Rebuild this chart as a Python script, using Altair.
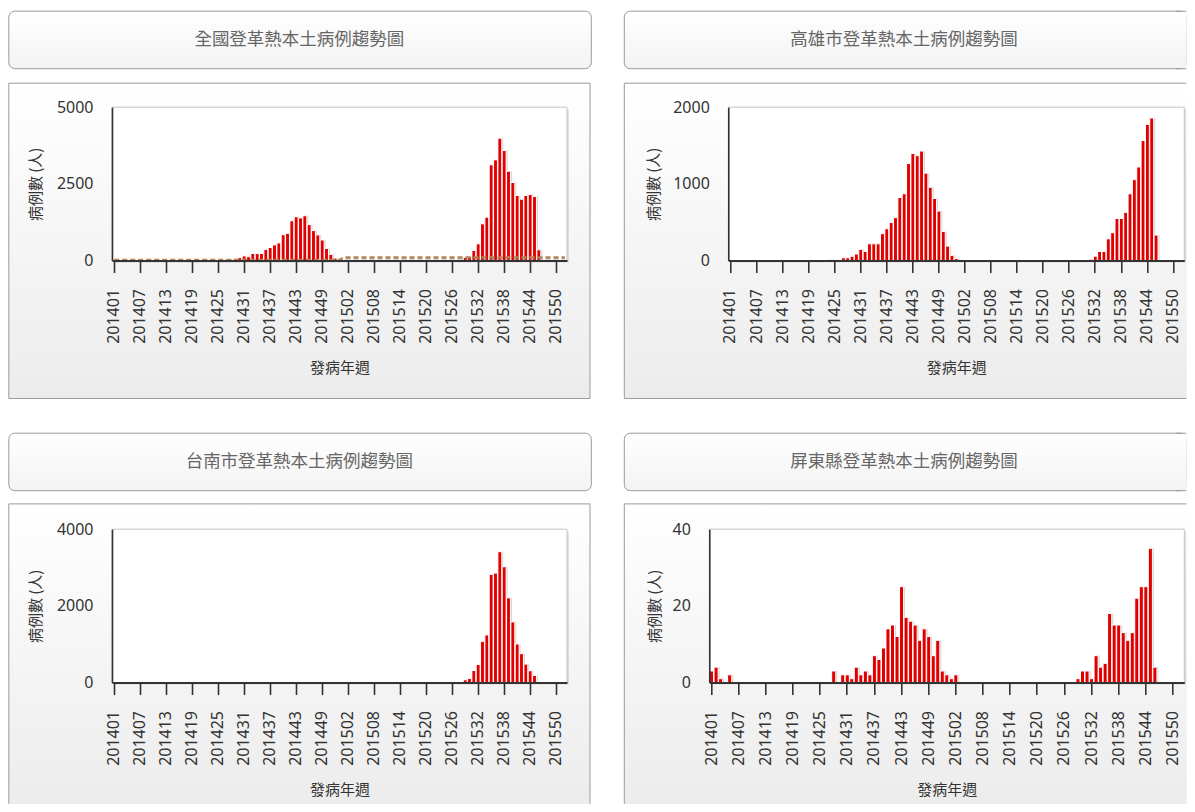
import altair as alt
import pandas as pd

# ---------------- data ----------------
weeks_2014 = ["2014%02d" % w for w in range(1, 54)]
weeks_2015 = ["2015%02d" % w for w in range(1, 53)]
weeks = weeks_2014 + weeks_2015

tick_labels = ["201401", "201407", "201413", "201419", "201425", "201431", "201437",
               "201443", "201449", "201502", "201508", "201514", "201520", "201526",
               "201532", "201538", "201544", "201550"]

# 全國
tw_2014 = [3, 4, 1, 0, 2,
           0, 0, 0, 0, 0, 0, 0, 0, 0, 0, 0, 0, 0, 0, 0, 0, 0, 0,
           12, 0, 15, 40, 40, 60, 92, 150, 125, 228, 225, 228, 362, 425, 508, 572, 840, 885,
           1295, 1425, 1390, 1460, 1170, 975, 835, 670, 392, 200, 78, 30]
tw_2015 = [5, 4, 1, 2, 0, 1,
           0, 0, 0, 0, 0, 0, 0, 0, 0, 0, 0, 0, 0, 0, 0, 0, 0, 0, 0, 0, 0, 0,
           100, 130, 326, 543, 1196, 1413, 3120, 3283, 3989, 3587, 2913, 2544, 2120, 2000,
           2120, 2152, 2087, 348,
           0, 0, 0, 0, 0, 0]
# 全國 dashed reference line (week, value)
thr_weeks = ["201401", "201453", "201501", "201552"]
thr_values = [20, 20, 100, 100]

# 高雄市
kh_2014 = [0, 0, 0, 0, 0, 0, 0, 0, 0, 0, 0, 0, 0, 0, 0, 0, 0, 0, 0, 0, 0, 0, 0,
           10, 0, 13, 35, 35, 55, 85, 146, 118, 218, 218, 218, 350, 414, 495, 560, 822, 870,
           1265, 1395, 1367, 1428, 1140, 956, 810, 645, 378, 188, 68, 25]
kh_2015 = [0, 0, 0, 0, 0, 0, 0, 0, 0, 0, 0, 0, 0, 0, 0, 0, 0, 0, 0, 0, 0, 0, 0, 0, 0, 0, 0, 0, 0, 0,
           17, 56, 118, 118, 283, 362, 548, 548, 628, 870, 1055, 1220, 1565, 1775, 1860, 332,
           0, 0, 0, 0, 0, 0]

# 台南市
tn_2014 = [0, 0, 0, 0, 0, 0, 0, 0, 0, 0, 0, 0, 0, 0, 0, 0, 0, 0, 0, 0, 0, 0, 0, 0, 0, 0,
           0, 0, 0, 0, 0, 0, 0, 0, 0, 0, 0, 0, 0, 0, 0, 0, 0, 0, 0, 0, 0, 0, 0, 0, 0, 0, 0]
tn_2015 = [0, 0, 0, 0, 0, 0, 0, 0, 0, 0, 0, 0, 0, 0, 0, 0, 0, 0, 0, 0, 0, 0, 0, 0, 0, 0, 0, 0,
           70, 105, 314, 471, 1074, 1240, 2820, 2855, 3413, 3020, 2209, 1580, 1004, 751, 480,
           306, 183,
           0, 0, 0, 0, 0, 0, 0]

# 屏東縣
pt_2014 = [3, 4, 1, 0, 2,
           0, 0, 0, 0, 0, 0, 0, 0, 0, 0, 0, 0, 0, 0, 0, 0, 0, 0, 0, 0, 0, 0,
           3, 0, 2, 2, 1, 4, 2, 3, 2, 7, 6, 9, 14, 15, 12, 25, 17, 16, 15, 11, 14, 12, 7, 11, 3, 2]
pt_2015 = [1, 2,
           0, 0, 0, 0, 0, 0, 0, 0, 0, 0, 0, 0, 0, 0, 0, 0, 0, 0, 0, 0, 0, 0, 0, 0, 0, 0,
           1, 3, 3, 1, 7, 4, 5, 18, 15, 15, 13, 11, 13, 22, 25, 25, 35, 4,
           0, 0, 0, 0, 0, 0]

titles = ["全國登革熱本土病例趨勢圖", "高雄市登革熱本土病例趨勢圖",
          "台南市登革熱本土病例趨勢圖", "屏東縣登革熱本土病例趨勢圖"]

# ---------------- styling ----------------
CJK = "Noto Sans CJK TC"
NUM = "Noto Sans"
H = 153.3
BAR_RED = "#e00000"
BORDER = "#9a9a9a"


def vgrad(c1, c2):
    return alt.Gradient(gradient="linear",
                        stops=[alt.GradientStop(color=c1, offset=0),
                               alt.GradientStop(color=c2, offset=1)],
                        x1=0, x2=0, y1=0, y2=1)


box_grad = vgrad("#ffffff", "#ececec")
title_grad = vgrad("#ffffff", "#f3f3f3")

one = pd.DataFrame({"k": [0]})


def rect(x1, x2, y1, y2, **kw):
    return alt.Chart(one).mark_rect(**kw).encode(
        x=alt.value(x1), x2=alt.value(x2), y=alt.value(y1), y2=alt.value(y2))


def hrule(x1, x2, y):
    return alt.Chart(one).mark_rule(color=BORDER, strokeWidth=1).encode(
        x=alt.value(x1), x2=alt.value(x2), y=alt.value(y))


def vrule(x, y1, y2):
    return alt.Chart(one).mark_rule(color=BORDER, strokeWidth=1).encode(
        x=alt.value(x), y=alt.value(y1), y2=alt.value(y2))


def panel(title, title_x, values, ymax, yticks, W, box_x1, ytitle_x,
          right_col, top_row, right_limit=None, thr=None):
    df = pd.DataFrame({"wk": weeks, "n": values})
    xscale = alt.Scale(domain=weeks, paddingInner=0.1, paddingOuter=0.05)
    yscale = alt.Scale(domain=[0, ymax], nice=False)

    x_axis = alt.Axis(values=tick_labels, labelAngle=-90, labelFont=NUM, labelFontSize=16,
                      labelColor="#333333", labelPadding=16, labelOverlap=False,
                      labelBound=False, labelFlush=False,
                      tickSize=12, tickColor="#333333", tickWidth=1.6,
                      domainColor="#333333", domainWidth=2, grid=False,
                      title="發病年週", titleFont=CJK, titleFontSize=15,
                      titleFontWeight="normal", titleColor="#333333",
                      titleX=W / 2, titleY=107, titleAlign="center",
                      titleBaseline="middle", titleAngle=0, zindex=1)
    y_axis = alt.Axis(values=yticks, format="d", labelFont=NUM, labelFontSize=16,
                      labelColor="#333333", labelPadding=19, ticks=False, tickSize=0,
                      domainColor="#333333", domainWidth=1.6, grid=False,
                      title="病例數 (人)", titleFont=CJK, titleFontSize=15,
                      titleFontWeight="normal", titleColor="#333333",
                      titleX=ytitle_x, titleY=H / 2, titleAlign="center",
                      titleBaseline="middle", titleAngle=-90, zindex=1)

    layers = []
    # ---- outer chart box ----
    oy1 = -24.0 if top_row else -25.3
    oy2 = 291.3 if top_row else 275.0
    if right_col:
        ox2 = right_limit
    else:
        ox2 = box_x1 + 581.2
    layers.append(rect(box_x1, ox2, oy1, oy2, fill=box_grad))
    layers.append(hrule(box_x1, ox2 - (0.5 if right_col else 0), oy1))
    layers.append(vrule(box_x1, oy1, oy2 - (0 if top_row else 0.5)))
    if not right_col:
        layers.append(vrule(ox2, oy1, oy2 - (0 if top_row else 0.5)))
    if top_row:
        layers.append(hrule(box_x1, ox2 - (0.5 if right_col else 0), oy2))

    # ---- title box ----
    ty1, ty2 = -96.0, -38.5
    if right_col:
        tx2 = right_limit - 0.5
        layers.append(rect(box_x1, tx2, ty1, ty2, fill=title_grad, stroke=BORDER,
                           strokeWidth=1, cornerRadius=6))
        layers.append(rect(right_limit - 10, right_limit, ty1 + 0.6, ty2 - 0.6, fill=title_grad))
        layers.append(hrule(right_limit - 11, right_limit - 0.5, ty1))
        layers.append(hrule(right_limit - 11, right_limit - 0.5, ty2))
    else:
        layers.append(rect(box_x1, box_x1 + 582.5, ty1, ty2, fill=title_grad, stroke=BORDER,
                           strokeWidth=1, cornerRadius=6))
    layers.append(alt.Chart(one).mark_text(text=title, font=CJK, fontSize=17.5, color="#666666",
                                           align="center", baseline="middle").encode(
        x=alt.value(title_x), y=alt.value((ty1 + ty2) / 2)))

    # ---- plot area ----
    layers.append(rect(2, W + 2, 2, H + 2, fill="#000000", opacity=0.10))
    layers.append(rect(0, W, 0, H, fill="#ffffff", stroke="#c4c4c4", strokeWidth=1))

    layers.append(alt.Chart(df).mark_bar(color="#888888", opacity=0.35, xOffset=1.5).encode(
        x=alt.X("wk:O", scale=xscale),
        y=alt.Y("n:Q", scale=yscale)))
    layers.append(alt.Chart(df).mark_bar(fill=BAR_RED, stroke="#ffffff", strokeWidth=1).encode(
        x=alt.X("wk:O", scale=xscale, axis=x_axis),
        y=alt.Y("n:Q", scale=yscale, axis=y_axis)))

    if thr is not None:
        tdf = pd.DataFrame({"wk": thr[0], "n": thr[1]})
        layers.append(alt.Chart(tdf).mark_line(color="#777777", opacity=0.5, strokeDash=[5, 3],
                                               strokeWidth=2.5, yOffset=1).encode(
            x=alt.X("wk:O", scale=xscale),
            y=alt.Y("n:Q", scale=yscale)))
        layers.append(alt.Chart(tdf).mark_line(color="#b8804e", strokeDash=[5, 3],
                                               strokeWidth=2.2).encode(
            x=alt.X("wk:O", scale=xscale),
            y=alt.Y("n:Q", scale=yscale)))
    return alt.layer(*layers).properties(width=W, height=H)


tl = panel(titles[0], 187.3, tw_2014 + tw_2015, 5000, [0, 2500, 5000], 455, -103.2, -76.7,
           right_col=False, top_row=True, thr=(thr_weeks, thr_values))
tr = panel(titles[1], 175.7, kh_2014 + kh_2015, 2000, [0, 1000, 2000], 456, -104.0, -74.3,
           right_col=True, top_row=True, right_limit=458.5)
bl = panel(titles[2], 187.3, tn_2014 + tn_2015, 4000, [0, 2000, 4000], 455, -103.2, -76.7,
           right_col=False, top_row=False)
br = panel(titles[3], 194.7, pt_2014 + pt_2015, 40, [0, 20, 40], 475, -85.0, -54.3,
           right_col=True, top_row=False, right_limit=477.5)

row1 = alt.hconcat(tl, tr, spacing=31.3)
row2 = alt.hconcat(bl, br, spacing=31.3)
chart = alt.vconcat(row1, row2, spacing=33).properties(
    padding={"left": 0, "top": 2.2, "right": 0, "bottom": 0},
    background="#ffffff"
).configure_view(strokeWidth=0)

chart.save("out.html", embed_options={"renderer": "svg", "actions": False})
